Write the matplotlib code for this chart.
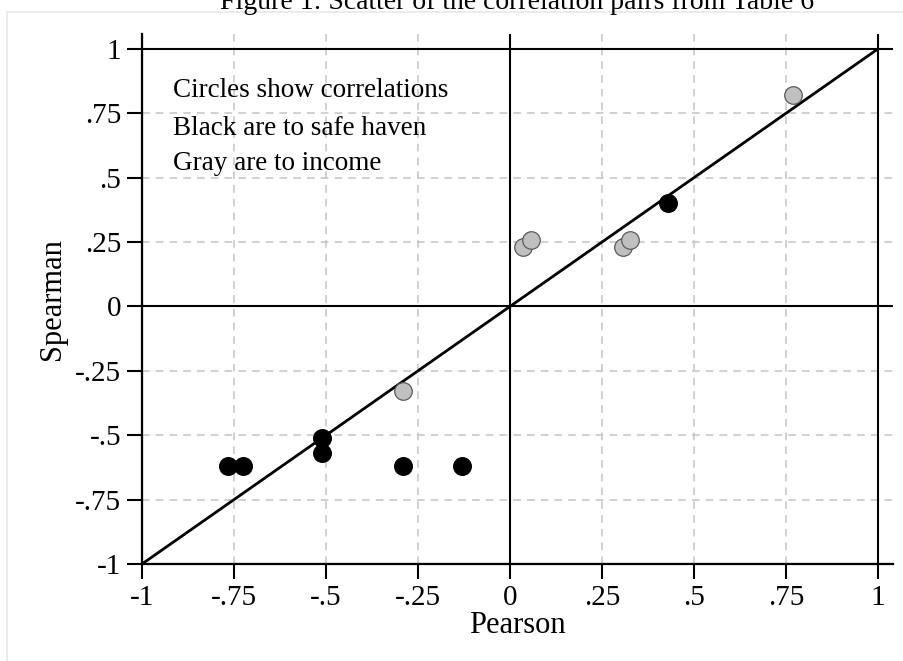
import matplotlib.pyplot as plt
from matplotlib.patches import Rectangle

# correlation pairs (Pearson, Spearman)
safe_pearson = [-0.765, -0.725, -0.51, -0.51, -0.29, -0.13, 0.43]
safe_spearman = [-0.62, -0.62, -0.51, -0.57, -0.62, -0.62, 0.40]
income_pearson = [-0.29, 0.035, 0.057, 0.307, 0.326, 0.77]
income_spearman = [-0.33, 0.23, 0.26, 0.23, 0.26, 0.82]

tick_vals = [-1, -0.75, -0.5, -0.25, 0, 0.25, 0.5, 0.75, 1]
tick_labels = ['-1', '-.75', '-.5', '-.25', '0', '.25', '.5', '.75', '1']
notes = ['Circles show correlations', 'Black are to safe haven', 'Gray are to income']

plt.rcParams['font.family'] = ['Liberation Serif', 'DejaVu Serif']

fig = plt.figure(figsize=(9.04, 6.61), dpi=100)
fig.patch.set_facecolor('white')
# faint outer frame (the page is cropped, title runs off the top)
fig.patches.append(Rectangle((7 / 904, -0.05), 1.1, (661 - 12) / 661 + 0.05,
                             transform=fig.transFigure, fill=False,
                             edgecolor='#e4e9ee', lw=1.2))
fig.text(0.572, 1 - 9 / 661, 'Figure 1: Scatter of the correlation pairs from Table 6',
         ha='center', va='baseline', fontsize=20)

ax = fig.add_axes([142 / 904, 1 - 564 / 661, (893 - 142) / 904, (564 - 34) / 661])
ax.set_xlim(-1, 1.041)
ax.set_ylim(-1, 1.058)

# grid: dashed gray, solid black at 0 and +-1
for v in tick_vals:
    if v in (-1, 0, 1):
        ax.axhline(v, color='black', lw=1.5, zorder=1)
        ax.axvline(v, color='black', lw=1.5, zorder=1)
    else:
        ax.axhline(v, color='#c4c4c4', lw=1.1, ls=(0, (5, 4)), zorder=0)
        ax.axvline(v, color='#c4c4c4', lw=1.1, ls=(0, (5, 4)), zorder=0)

ax.plot([-1, 1], [-1, 1], color='black', lw=2, zorder=2)

ax.scatter(safe_pearson, safe_spearman, s=160, color='black', zorder=3)
ax.scatter(income_pearson, income_spearman, s=160, facecolor='#c0c0c0',
           edgecolor='#5a5a5a', linewidths=0.9, zorder=3)

for i, line in enumerate(notes):
    ax.text(-0.916, [0.814, 0.666, 0.530][i], line, fontsize=19.5, va='baseline')

ax.set_xticks(tick_vals)
ax.set_xticklabels(tick_labels)
ax.set_yticks(tick_vals)
ax.set_yticklabels(tick_labels)
ax.tick_params(length=11, width=1.5, pad=4, labelsize=21, direction='out')

for side in ['top', 'right']:
    ax.spines[side].set_visible(False)
for side in ['left', 'bottom']:
    ax.spines[side].set_linewidth(1.6)

ax.set_xlabel('Pearson', fontsize=22, labelpad=0)
ax.set_ylabel('Spearman', fontsize=22, labelpad=6)

fig.savefig('out.png', dpi=100)
